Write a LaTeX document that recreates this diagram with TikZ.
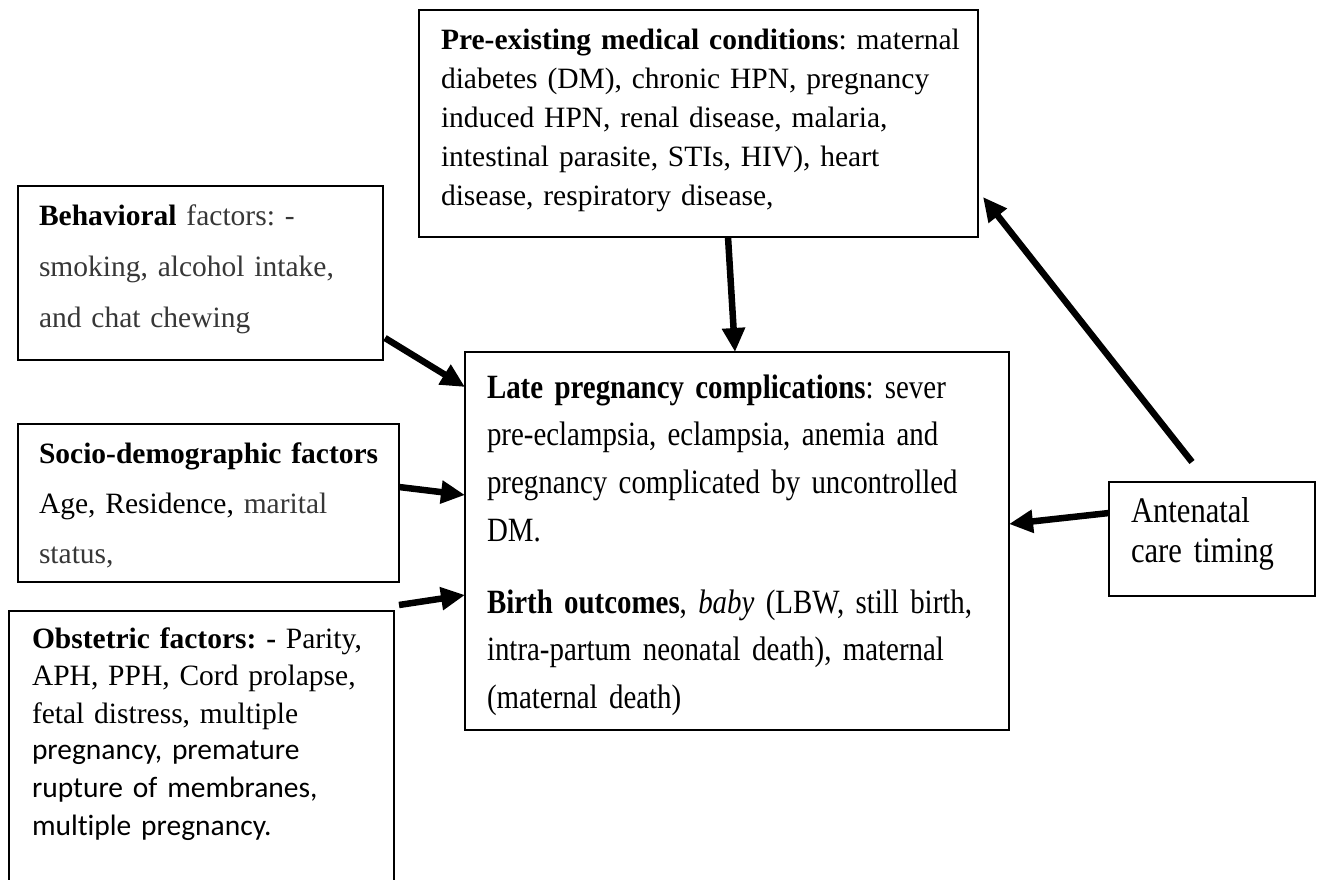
\documentclass[tikz,border=0pt]{standalone}
\usepackage{fontspec}
\setmainfont{Liberation Serif}
\newfontfamily\calfont[Ligatures={NoCommon,NoDiscretionary}]{Carlito}
\newfontfamily\narrowfont[FakeStretch=0.85]{Liberation Serif}
\usetikzlibrary{arrows.meta,calc}
\definecolor{txtgray}{RGB}{55,55,55}
\newcommand{\fl}{\rule{0pt}{26pt}}
\begin{document}
\frenchspacing
\begin{tikzpicture}[x=1pt,y=-1pt,
  box/.style={draw=black, line width=1.5pt, inner sep=0pt, outer sep=0pt, anchor=north west},
  txt/.style={anchor=north west, inner sep=0pt, outer sep=0pt, align=left, text width=600pt},
  link/.style={line width=6.5pt, -{Triangle[length=24pt,width=22pt]}}]
\useasboundingbox (0,0) rectangle (1322,880);
\clip (0,0) rectangle (1322,880);
\fill[white] (0,0) rectangle (1322,880);

% boxes
\node[box, minimum width=559pt, minimum height=227pt] (pre) at (419,10) {};
\node[box, minimum width=365pt, minimum height=174pt] (beh) at (18,186) {};
\node[box, minimum width=381pt, minimum height=158pt] (soc) at (18,424) {};
\node[box, minimum width=385pt, minimum height=320pt] (obs) at (9,611) {};
\node[box, minimum width=544pt, minimum height=378pt] (late) at (465,352) {};
\node[box, minimum width=206pt, minimum height=114pt] (anc) at (1109,482) {};

% texts
\node[txt, font=\frenchspacing\fontsize{29.5}{39}\selectfont] (preT) at (441,24)
 {\fl\textbf{Pre-existing medical conditions}: maternal\\
  diabetes (DM), chronic HPN, pregnancy\\
  induced HPN, renal disease, malaria,\\
  intestinal parasite, STIs, HIV), heart\\
  disease, respiratory disease,};

\node[txt, font=\frenchspacing\fontsize{29.5}{51}\selectfont] (behT) at (39,199)
 {\fl\textbf{Behavioral} \textcolor{txtgray}{factors: -}\\
  \textcolor{txtgray}{smoking, alcohol intake,}\\
  \textcolor{txtgray}{and chat chewing}};

\node[txt, font=\frenchspacing\fontsize{29.5}{50}\selectfont] (socT) at (39,437)
 {\fl\textbf{Socio-demographic factors}\\
  Age, Residence, \textcolor{txtgray}{marital}\\
  \textcolor{txtgray}{status,}};

\node[txt, font=\frenchspacing\fontsize{29.5}{37.5}\selectfont] (obsT) at (32,622)
 {\fl\textbf{Obstetric factors: -} Parity,\\
  APH, PPH, Cord prolapse,\\
  fetal distress, multiple};
\node[txt, font=\frenchspacing\calfont\fontsize{29.5}{38}\selectfont] (obsT2) at (32,733)
 {\fl pregnancy, premature\\
  rupture of membranes,\\
  multiple pregnancy.};

\node[txt, font=\frenchspacing\narrowfont\fontsize{34}{47.7}\selectfont] (lateT) at (487,372)
 {\fl\textbf{Late pregnancy complications}: sever\\
  pre-eclampsia, eclampsia, anemia and\\
  pregnancy complicated by uncontrolled\\
  DM.};
\node[txt, font=\frenchspacing\narrowfont\fontsize{34}{47.7}\selectfont] (birthT) at (487,587)
 {\fl\textbf{Birth outcomes}, \textit{baby} (LBW, still birth,\\
  intra-partum neonatal death), maternal\\
  (maternal death)};

\node[txt, font=\frenchspacing\narrowfont\fontsize{36}{40}\selectfont] (ancT) at (1131,496)
 {\fl Antenatal\\ care timing};

% connectors
\draw[link] ($(pre.south west)+(309,0)$) -- ($(late.north west)+(270,0)$);
\draw[link] ($(beh.south east)+(2,-22)$) -- ($(late.north west)+(0,35)$);
\draw[link] ($(soc.north east)+(0,63)$) -- ($(late.north west)+(0,143)$);
\draw[link] ($(obs.north east)+(5,-6)$) -- ($(late.north west)+(0,243)$);
\draw[link] ($(anc.north west)+(0,31)$) -- ($(late.north east)+(0,172)$);
\draw[link] ($(anc.north west)+(83,-20)$) -- ($(pre.south east)+(5,-40)$);
\end{tikzpicture}
\end{document}
